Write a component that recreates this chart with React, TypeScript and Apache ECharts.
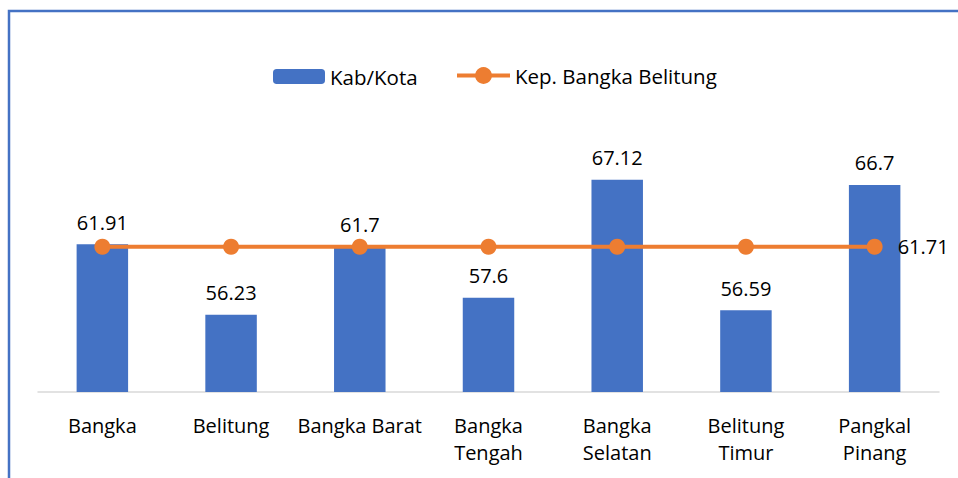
import React, { useEffect, useRef } from "react";
import * as echarts from "echarts";

const categories = [
  "Bangka",
  "Belitung",
  "Bangka Barat",
  "Bangka\nTengah",
  "Bangka\nSelatan",
  "Belitung\nTimur",
  "Pangkal\nPinang",
];
const kabKota = [61.91, 56.23, 61.7, 57.6, 67.12, 56.59, 66.7];
const provinsi = [61.71, 61.71, 61.71, 61.71, 61.71, 61.71, 61.71];
const seriesNames = ["Kab/Kota", "Kep. Bangka Belitung"];

const FONT = "Open Sans";

export default function App() {
  const ref = useRef<HTMLDivElement>(null);
  useEffect(() => {
    if (!ref.current) return;
    const chart = echarts.init(ref.current, undefined, { renderer: "svg" });
    const last = provinsi.length - 1;
    const legendText = { fontFamily: FONT, fontSize: 20.5, color: "#000" };
    chart.setOption({
      animation: false,
      backgroundColor: "#ffffff",
      textStyle: { fontFamily: FONT },
      graphic: [
        {
          type: "polyline",
          shape: { points: [[9, 478], [9, 11], [958, 11]] },
          style: { stroke: "#4472C4", lineWidth: 2.5, fill: "none" },
          silent: true,
        },
      ],
      legend: [
        {
          left: 268,
          top: 61,
          itemWidth: 52,
          itemHeight: 15,
          textStyle: legendText,
          data: [seriesNames[0]],
        },
        {
          left: 450,
          top: 60,
          itemWidth: 53,
          itemHeight: 21,
          lineStyle: { width: 4 },
          textStyle: legendText,
          data: [seriesNames[1]],
        },
      ],
      grid: { left: 38, right: 19, top: 144, bottom: 86, containLabel: false },
      xAxis: {
        type: "category",
        data: categories,
        axisLine: { show: true, lineStyle: { color: "#d9d9d9", width: 1.5 } },
        axisTick: { show: false },
        axisLabel: {
          color: "#000",
          fontFamily: FONT,
          fontSize: 20,
          lineHeight: 27,
          margin: 20,
          interval: 0,
        },
      },
      yAxis: {
        type: "value",
        min: 50,
        max: 70,
        show: false,
        splitLine: { show: false },
      },
      series: [
        {
          name: seriesNames[0],
          type: "bar",
          data: kabKota,
          barWidth: "40%",
          itemStyle: { color: "#4472C4" },
          label: {
            show: true,
            position: "top",
            distance: 12,
            color: "#000",
            fontFamily: FONT,
            fontSize: 20,
          },
          z: 2,
        },
        {
          name: seriesNames[1],
          type: "line",
          data: provinsi.map((v, i) =>
            i === last
              ? {
                  value: v,
                  label: {
                    show: true,
                    position: "right",
                    distance: 15,
                    color: "#000",
                    fontFamily: FONT,
                    fontSize: 20,
                  },
                }
              : v
          ),
          symbol: "circle",
          symbolSize: 16,
          lineStyle: { color: "#ED7D31", width: 4 },
          itemStyle: { color: "#ED7D31" },
          z: 3,
        },
      ],
    });
    return () => chart.dispose();
  }, []);
  return (
    <div
      ref={ref}
      style={{ position: "fixed", left: 0, top: 0, width: 958, height: 478 }}
    />
  );
}
